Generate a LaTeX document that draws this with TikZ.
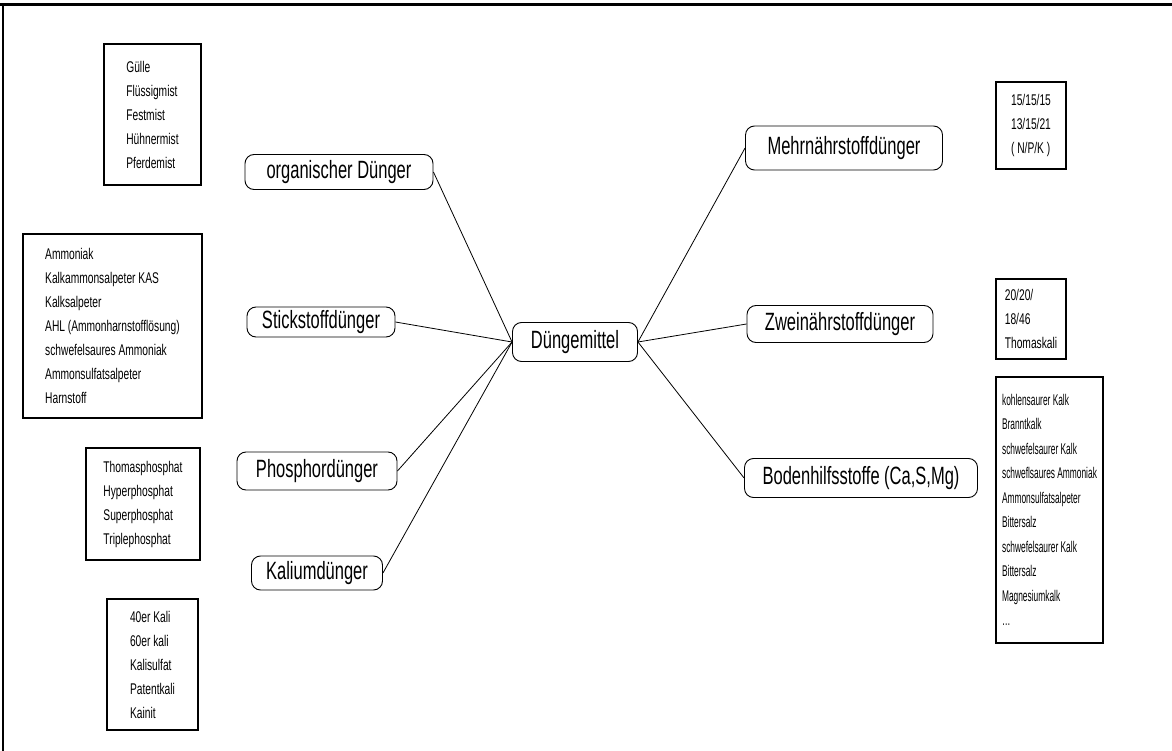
\documentclass[tikz,border=0pt]{standalone}
\usepackage{fontspec}
\setmainfont{Liberation Sans}
\newfontfamily\schmal[FakeStretch=0.66]{Liberation Sans}
\newfontfamily\engschmal[FakeStretch=0.54]{Liberation Sans}

\begin{document}
\begin{tikzpicture}
	[x=1pt,y=-1pt,
	 art/.style={draw,rounded corners=9pt,line width=0.9pt,inner sep=2pt,
	   font=\schmal\fontsize{25}{28}\selectfont},
	 liste/.style={draw,line width=1.3pt,align=left,inner sep=0pt,
	   font=\schmal\fontsize{15.5}{24}\selectfont}]
	\useasboundingbox (0,0) rectangle (1172,751);
	% Rahmen oben und links
	\draw[line width=3pt] (0,5) -- (1172,5);
	\draw[line width=2pt] (3,5) -- (3,751);
	
	\node[art,minimum width=125,minimum height=39] (dm) at (575,342) {Düngemittel};
	
	\node[art,minimum width=188,minimum height=35] (org) at (339,172) {organischer Dünger};
	\node[art,minimum width=148,minimum height=30] (stick) at (321,322) {Stickstoffdünger};
	\node[art,minimum width=160,minimum height=38] (phos) at (317,471) {Phosphordünger};
	\node[art,minimum width=131,minimum height=34] (kali) at (317,573) {Kaliumdünger};
	
	\node[art,minimum width=197,minimum height=44] (mehr) at (844,148) {Mehrnährstoffdünger};
	\node[art,minimum width=186,minimum height=37] (zwei) at (840,324) {Zweinährstoffdünger};
	\node[art,minimum width=233,minimum height=39] (boden) at (861,478) {Bodenhilfsstoffe (Ca,S,Mg)};
	
	\node[liste,minimum width=97,minimum height=141] (l1) at (152.5,114.5)
		{Gülle\\Flüssigmist\\Festmist\\Hühnermist\\Pferdemist};
	\node[liste,minimum width=179,minimum height=184] (l2) at (112.5,326)
		{Ammoniak\\Kalkammonsalpeter KAS\\Kalksalpeter\\AHL (Ammonharnstofflösung)\\schwefelsaures Ammoniak\\Ammonsulfatsalpeter\\Harnstoff};
	\node[liste,minimum width=114,minimum height=112] (l3) at (143,504)
		{Thomasphosphat\\Hyperphosphat\\Superphosphat\\Triplephosphat};
	\node[liste,minimum width=91,minimum height=131] (l4) at (152.5,664.5)
		{40er Kali\\60er kali\\Kalisulfat\\Patentkali\\Kainit};
	
	\node[liste,minimum width=70,minimum height=87] (r1) at (1031,125.5)
		{15/15/15\\13/15/21\\( N/P/K )};
	\node[liste,minimum width=70,minimum height=80] (r2) at (1031,319)
		{20/20/\\18/46\\Thomaskali};
	\node[liste,minimum width=107,minimum height=266,
		font=\engschmal\fontsize{15.5}{24.5}\selectfont] (r3) at (1049.5,510)
		{kohlensaurer Kalk\\Branntkalk\\schwefelsaurer Kalk\\schweflsaures Ammoniak\\Ammonsulfatsalpeter\\Bittersalz\\schwefelsaurer Kalk\\Bittersalz\\Magnesiumkalk\\\dots};
	
	\foreach \ziel in {org,stick,phos,kali}
	\draw[line width=0.8pt] (dm.west) -- (\ziel.east);
	\foreach \ziel in {mehr,zwei,boden}
	\draw[line width=0.8pt] (dm.east) -- (\ziel.west);
\end{tikzpicture}
\end{document}
